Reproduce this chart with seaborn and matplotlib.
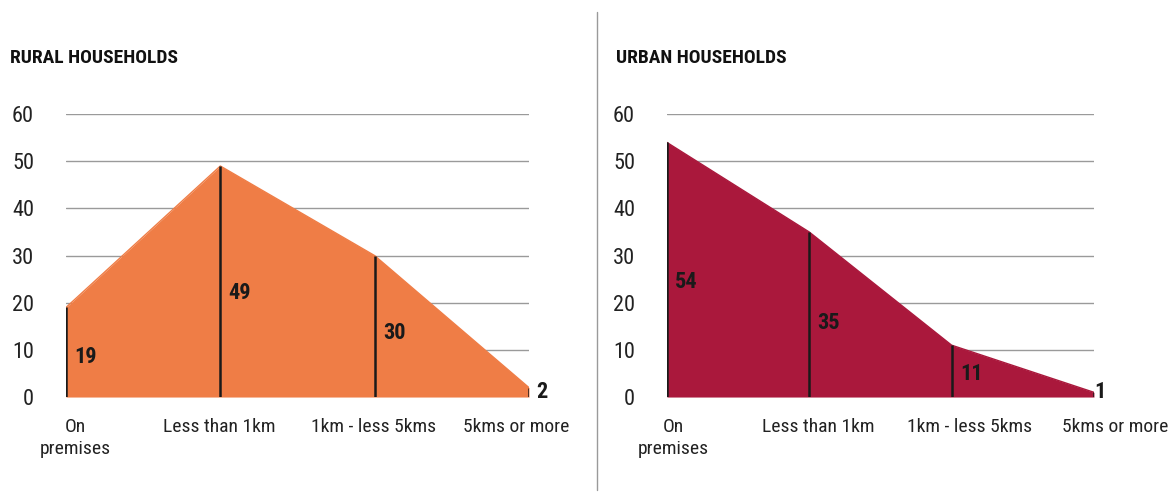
import numpy as np
import matplotlib
matplotlib.use("Agg")
import matplotlib.pyplot as plt
import matplotlib.transforms as mtransforms
from matplotlib import font_manager
import seaborn as sns

# Distance to main water source, % of households
categories = ["On\npremises", "Less than 1km", "1km - less 5kms", "5kms or more"]
rural_values = [19, 49, 30, 2]
urban_values = [54, 35, 11, 1]
y_ticks = [0, 10, 20, 30, 40, 50, 60]

RURAL_COLOR = "#EF7D46"
URBAN_COLOR = "#AA183C"

sns.set_theme(style="white")

# pick a narrow face if one is around, the original uses a condensed sans
names = {f.name for f in font_manager.fontManager.ttflist}
condensed = [f for f in font_manager.fontManager.ttflist if f.stretch in ("condensed", "semi-condensed")]
family = []
for cand in ["Liberation Sans Narrow", "Roboto Condensed", "Open Sans Condensed"]:
    if cand in names:
        family.append(cand)
family.append("DejaVu Sans")
plt.rcParams["font.family"] = family
if condensed:
    plt.rcParams["font.stretch"] = "condensed"

FS = 14


def draw_panel(fig, ax, values, color, title, shifts, end_gap, title_dx):
    x = np.arange(len(categories))
    ax.fill_between(x, 0, values, color=color, lw=0, zorder=2)
    sns.lineplot(x=x, y=values, color=color, lw=1, ax=ax, zorder=2)
    ax.vlines(x, 0, values, color="#1a1a1a", lw=1.8, zorder=3)

    for yv in y_ticks:
        ax.axhline(yv, color="#9a9a9a", lw=1, zorder=1)

    # value labels
    for xi, v in zip(x[:-1], values[:-1]):
        ax.annotate(str(v), (xi, v * 0.45), xytext=(6, 0), textcoords="offset points",
                    ha="left", va="center", fontsize=16, fontweight="bold", color="#1a1a1a")
    ax.annotate(str(values[-1]), (x[-1], 1), xytext=(end_gap, 0), textcoords="offset points",
                ha="left", va="center", fontsize=16, fontweight="bold", color="#1a1a1a")

    ax.set_xlim(x[0], x[-1])
    ax.set_ylim(0, 60)
    ax.set_yticks(y_ticks)
    ax.set_yticklabels([str(t) for t in y_ticks], fontsize=16, color="#222222")
    ax.set_xticks(x)
    ax.set_xticklabels(categories, fontsize=FS, color="#222222", linespacing=1.3)
    ax.tick_params(axis="x", length=0, pad=15)
    ax.tick_params(axis="y", length=0, pad=23)
    for lbl, dx in zip(ax.get_xticklabels(), shifts):
        lbl.set_verticalalignment("top")
        lbl.set_transform(lbl.get_transform() + mtransforms.ScaledTranslation(dx / 72, 0, fig.dpi_scale_trans))
    sns.despine(ax=ax, left=True, bottom=True)
    ax.set_xlabel("")
    ax.set_ylabel("")
    ax.text(0, 1.20, title, transform=ax.transAxes + mtransforms.ScaledTranslation(title_dx / 100, 0, fig.dpi_scale_trans),
            fontsize=FS, fontweight="bold", color="#111111", ha="left", va="center")


fig = plt.figure(figsize=(11.68, 4.92), dpi=100)
ax1 = fig.add_axes([0.0565, 0.193, 0.3964, 0.575])
ax2 = fig.add_axes([0.571, 0.193, 0.3656, 0.575])

# horizontal nudges (points) for the category labels
draw_panel(fig, ax1, rural_values, RURAL_COLOR, "RURAL HOUSEHOLDS", [6.5, -0.7, -0.7, -9.4], 5, -56)
draw_panel(fig, ax2, urban_values, URBAN_COLOR, "URBAN HOUSEHOLDS", [4.3, 6.5, 13, 15], 0.5, -51)

# divider between the two panels
fig.add_artist(plt.Line2D([0.511, 0.511], [0.005, 0.975], color="#9a9a9a", lw=1))

fig.savefig("out.png", dpi=100)
